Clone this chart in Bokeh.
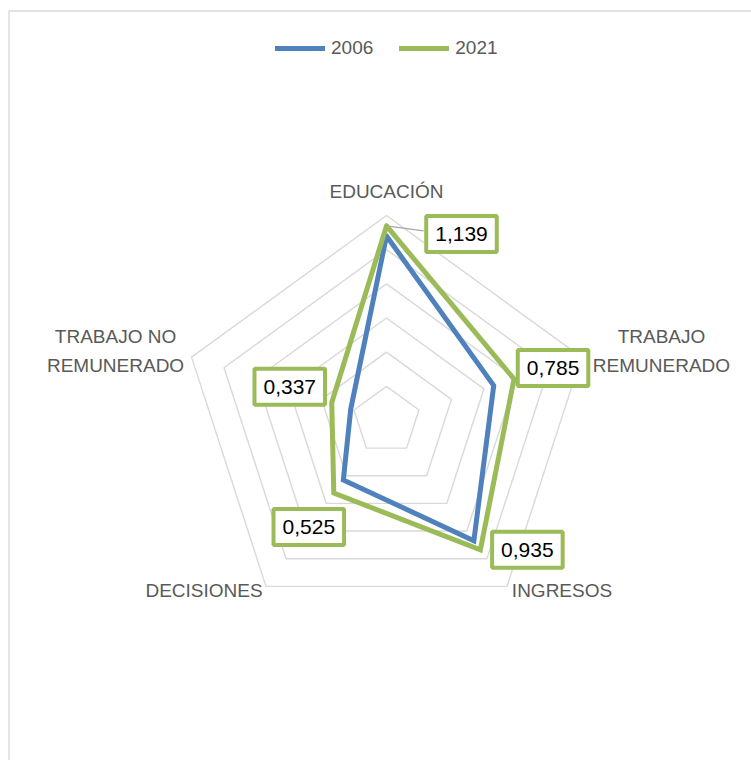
import numpy as np
from bokeh.plotting import figure
from bokeh.models import Range1d, Legend, LegendItem, ColumnDataSource
from bokeh.core.properties import value
from bokeh.embed import file_html
from bokeh.resources import INLINE

# ---------------- data ----------------
categories = ["EDUCACIÓN", "TRABAJO\nREMUNERADO", "INGRESOS", "DECISIONES", "TRABAJO NO\nREMUNERADO"]
values_2006 = [1.08, 0.66, 0.87, 0.43, 0.22]
values_2021 = [1.139, 0.785, 0.935, 0.525, 0.337]
labels_2021 = ["1,139", "0,785", "0,935", "0,525", "0,337"]
series_names = ["2006", "2021"]
grid_levels = [0.2, 0.4, 0.6, 0.8, 1.0, 1.2]

# ---------------- layout ----------------
W, H = 751, 760
CX, CY = 386, 420          # centre of the radar in frame pixels (from top-left)
R_PX = 205                 # pixel radius of the outer ring
R_MAX = grid_levels[-1]
S = R_PX / R_MAX           # pixels per unit

FONT_NAME = "Liberation Sans"
FONT = value(FONT_NAME)
BLUE = "#4F81BD"
GREEN = "#9BBB59"
GRID = "#D9D9D9"
TXT = "#595959"

n = len(categories)
theta = np.deg2rad(90 - 72 * np.arange(n))


def polar(vals):
    v = np.asarray(vals, dtype=float)
    return v * np.cos(theta), v * np.sin(theta)


def closed(a):
    return list(a) + [a[0]]


p = figure(width=W, height=H, output_backend="svg", toolbar_location=None,
           x_range=Range1d(-CX / S, (W - CX) / S),
           y_range=Range1d(-(H - CY) / S, CY / S),
           min_border=0, outline_line_color=None, background_fill_color="white",
           border_fill_color="white")
p.axis.visible = False
p.grid.visible = False

# chart-area border (left and top edges visible)
x0, x1 = p.x_range.start, p.x_range.end
y0, y1 = p.y_range.start, p.y_range.end
p.line([x0 + 8.5 / S, x0 + 8.5 / S, x1], [y0, y1 - 10.5 / S, y1 - 10.5 / S],
       line_color=GRID, line_width=1.3)

# grid rings
for lv in grid_levels:
    rx, ry = polar([lv] * n)
    p.line(closed(rx), closed(ry), line_color=GRID, line_width=1.4)

# series
bx, by = polar(values_2006)
gx, gy = polar(values_2021)
r06 = p.line(closed(bx), closed(by), line_color=BLUE, line_width=5,
             line_join="miter", line_cap="round")
r21 = p.line(closed(gx), closed(gy), line_color=GREEN, line_width=5,
             line_join="miter", line_cap="round")

# leader line for the first data label
p.line([gx[0], gx[0] + 37 / S], [gy[0], gy[0] - 5 / S], line_color="#A6A6A6", line_width=1.2)

# data labels of 2021
lab_src = ColumnDataSource(dict(
    x=gx, y=gy, text=labels_2021,
    xo=[75, 39, 47, -25, -42],
    yo=[8, -11, 0, 34, -16],
))
p.text(x="x", y="y", text="text", x_offset="xo", y_offset="yo", source=lab_src,
       text_font=FONT, text_font_size="21px", text_color="black",
       text_align="center", text_baseline="middle",
       background_fill_color="white", border_line_color=GREEN, border_line_width=4,
       padding={"x": 9, "y": 11})

# category labels
ox, oy = polar([R_MAX] * n)
cat_src = ColumnDataSource(dict(
    x=ox, y=oy, text=categories,
    xo=[0, 80, 55, -62, -76],
    yo=[-24, -6, 4, 4, -6],
))
p.text(x="x", y="y", text="text", x_offset="xo", y_offset="yo", source=cat_src,
       text_font=FONT, text_font_size="19px", text_color=TXT,
       text_align="center", text_baseline="middle", text_line_height=1.4)

# legend
legend = Legend(items=[LegendItem(label=series_names[0], renderers=[r06]),
                       LegendItem(label=series_names[1], renderers=[r21])],
                orientation="horizontal", location=(275, 701),
                glyph_width=50, glyph_height=20, label_height=20,
                label_standoff=6, spacing=26, padding=0, margin=0,
                border_line_color=None, background_fill_alpha=0,
                label_text_font=FONT_NAME, label_text_font_size="19px",
                label_text_color=TXT)
p.add_layout(legend, "center")

open("out.html", "w").write(file_html(p, INLINE))
